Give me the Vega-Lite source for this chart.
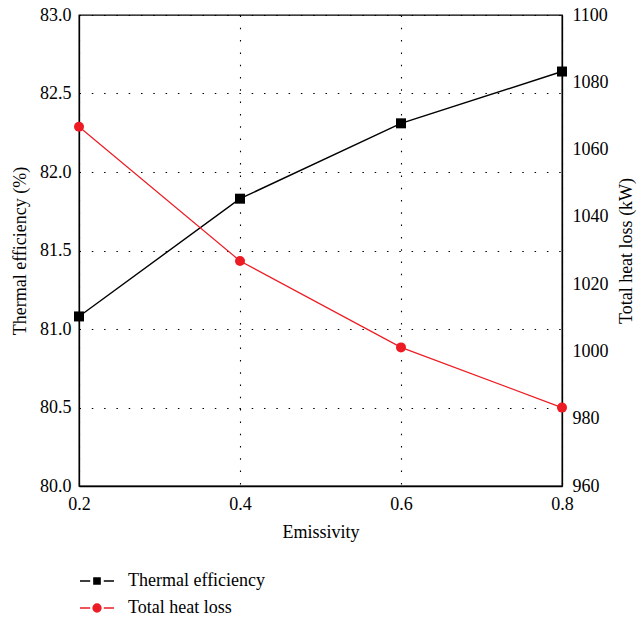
{
  "$schema": "https://vega.github.io/schema/vega-lite/v6.json",
  "width": 483,
  "height": 471,
  "autosize": {"type": "none"},
  "padding": {"left": 79, "top": 15, "right": 77, "bottom": 134},
  "background": "white",
  "data": {
    "values": [
      {"e": 0.2, "series": "Thermal efficiency", "value": 81.08},
      {"e": 0.4, "series": "Thermal efficiency", "value": 81.83},
      {"e": 0.6, "series": "Thermal efficiency", "value": 82.31},
      {"e": 0.8, "series": "Thermal efficiency", "value": 82.64},
      {"e": 0.2, "series": "Total heat loss", "value": 1066.8},
      {"e": 0.4, "series": "Total heat loss", "value": 1026.9},
      {"e": 0.6, "series": "Total heat loss", "value": 1001.2},
      {"e": 0.8, "series": "Total heat loss", "value": 983.3}
    ]
  },
  "layer": [
    {
      "transform": [{"filter": "datum.series === 'Thermal efficiency'"}],
      "mark": {"type": "line", "strokeWidth": 1.4, "point": {"filled": true, "shape": "square", "size": 100, "opacity": 1}},
      "encoding": {
        "x": {"field": "e", "type": "quantitative", "scale": {"domain": [0.2, 0.8], "nice": false},
          "axis": {"values": [0.2, 0.4, 0.6, 0.8], "format": ".1f", "title": "Emissivity", "grid": true, "ticks": false, "labelFlush": false, "labelPadding": 9, "titlePadding": 10}},
        "y": {"field": "value", "type": "quantitative", "scale": {"domain": [80, 83], "nice": false, "zero": false},
          "axis": {"orient": "left", "values": [80, 80.5, 81, 81.5, 82, 82.5, 83], "format": ".1f", "title": "Thermal efficiency (%)", "grid": true, "ticks": false, "labelFlush": false, "labelPadding": 8, "titlePadding": 10}},
        "color": {"field": "series", "type": "nominal",
          "scale": {"domain": ["Thermal efficiency", "Total heat loss"], "range": ["black", "#ed1c24"]},
          "legend": {
            "orient": "none", "legendX": 0, "legendY": 548, "title": null,
            "symbolSize": 1156, "labelOffset": 13, "rowPadding": -8,
            "labelFontSize": 18, "labelFont": "Liberation Serif", "labelColor": "black",
            "encode": {"symbols": {"update": {
              "shape": {"signal": "datum.value === 'Thermal efficiency' ? 'M-1,0H-0.4M0.4,0H1M-0.18,-0.18H0.18V0.18H-0.18Z' : 'M-1,0H-0.4M0.4,0H1M0.23,0A0.23,0.23 0 1,1 -0.23,0A0.23,0.23 0 1,1 0.23,0Z'"},
              "fill": {"scale": "color", "field": "value"},
              "stroke": {"scale": "color", "field": "value"},
              "strokeWidth": {"value": 1.5},
              "opacity": {"value": 1}
            }}}
          }}
      }
    },
    {
      "transform": [{"filter": "datum.series === 'Total heat loss'"}],
      "mark": {"type": "line", "strokeWidth": 1.2, "point": {"filled": true, "shape": "circle", "size": 100, "opacity": 1}},
      "encoding": {
        "x": {"field": "e", "type": "quantitative", "scale": {"domain": [0.2, 0.8], "nice": false}},
        "y": {"field": "value", "type": "quantitative", "scale": {"domain": [960, 1100], "nice": false, "zero": false},
          "axis": {"orient": "right", "values": [960, 980, 1000, 1020, 1040, 1060, 1080, 1100], "format": "d", "title": "Total heat loss (kW)", "grid": false, "ticks": false, "labelFlush": false, "labelPadding": 10, "titlePadding": 9, "titleAngle": 270, "titleBaseline": "top"}},
        "color": {"field": "series", "type": "nominal"}
      }
    }
  ],
  "resolve": {"scale": {"y": "independent"}},
  "config": {
    "font": "Liberation Serif",
    "view": {"stroke": "black", "strokeWidth": 1.3},
    "axis": {
      "labelFont": "Liberation Serif", "titleFont": "Liberation Serif",
      "labelFontSize": 18, "titleFontSize": 18, "titleFontWeight": "normal",
      "labelColor": "black", "titleColor": "black",
      "domainColor": "black", "domainWidth": 1.3,
      "gridColor": "black", "gridWidth": 1.1, "gridDash": [1.5, 10.8], "gridOpacity": 1
    },
    "legend": {"labelFont": "Liberation Serif"}
  }
}
